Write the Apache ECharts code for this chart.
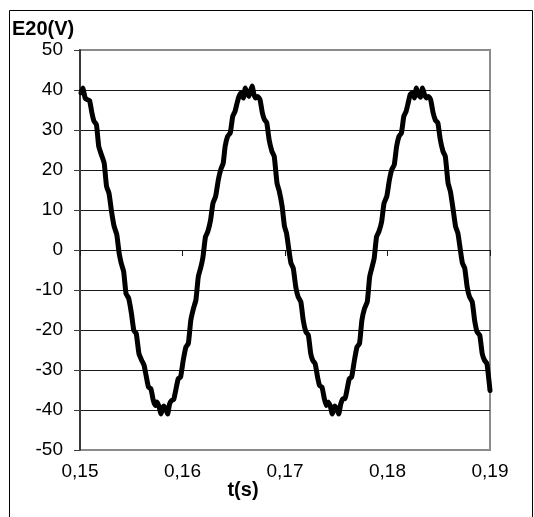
<!DOCTYPE html>
<html>
<head>
<meta charset="utf-8">
<script src="https://cdn.jsdelivr.net/npm/echarts@6/dist/echarts.min.js"></script>
<style>
  html, body { margin: 0; padding: 0; background: #fff; }
  #chart { width: 534px; height: 517px; }
</style>
</head>
<body>
<div id="chart"></div>
<script>
// Sample times (s) of the measured E20 voltage
const timeS = [
  0.15010, 0.15027, 0.15050, 0.15070, 0.15093, 0.15116, 0.15136, 0.15160, 0.15183, 0.15209,
  0.15236, 0.15259, 0.15283, 0.15309, 0.15333, 0.15359, 0.15382, 0.15402, 0.15426, 0.15449,
  0.15475, 0.15502, 0.15525, 0.15549, 0.15575, 0.15602, 0.15625, 0.15648, 0.15668, 0.15692,
  0.15715, 0.15735, 0.15748, 0.15768, 0.15791, 0.15815, 0.15835, 0.15855, 0.15874, 0.15894,
  0.15914, 0.15934, 0.15958, 0.15981, 0.16007, 0.16034, 0.16057, 0.16081, 0.16107, 0.16131,
  0.16154, 0.16180, 0.16200, 0.16224, 0.16247, 0.16274, 0.16297, 0.16323, 0.16350, 0.16373,
  0.16397, 0.16416, 0.16440, 0.16466, 0.16490, 0.16513, 0.16533, 0.16553, 0.16573, 0.16593,
  0.16613, 0.16633, 0.16649, 0.16666, 0.16679, 0.16696, 0.16712, 0.16732, 0.16756, 0.16779,
  0.16799, 0.16822, 0.16845, 0.16872, 0.16895, 0.16922, 0.16945, 0.16972, 0.16995, 0.17015,
  0.17038, 0.17058, 0.17081, 0.17105, 0.17128, 0.17155, 0.17178, 0.17204, 0.17228, 0.17251,
  0.17271, 0.17294, 0.17318, 0.17337, 0.17361, 0.17384, 0.17404, 0.17421, 0.17441, 0.17461,
  0.17484, 0.17504, 0.17524, 0.17544, 0.17564, 0.17584, 0.17604, 0.17627, 0.17650, 0.17677,
  0.17703, 0.17727, 0.17750, 0.17776, 0.17803, 0.17826, 0.17850, 0.17870, 0.17893, 0.17916,
  0.17943, 0.17966, 0.17993, 0.18019, 0.18042, 0.18066, 0.18089, 0.18112, 0.18136, 0.18159,
  0.18182, 0.18202, 0.18222, 0.18242, 0.18262, 0.18282, 0.18302, 0.18322, 0.18342, 0.18362,
  0.18382, 0.18401, 0.18421, 0.18445, 0.18468, 0.18491, 0.18515, 0.18541, 0.18564, 0.18591,
  0.18614, 0.18641, 0.18664, 0.18687, 0.18711, 0.18731, 0.18754, 0.18777, 0.18800, 0.18827,
  0.18850, 0.18874, 0.18900, 0.18924, 0.18947, 0.18970, 0.19000
];

// E20 voltage (V) at each sample time
const e20V = [
  39.3, 40.5, 38.0, 37.6, 37.4, 34.3, 32.2, 31.4, 25.9, 23.8,
  21.7, 15.9, 14.2, 9.4, 5.9, 3.8, -0.8, -3.3, -5.4, -10.9,
  -12.1, -15.9, -20.1, -20.9, -25.9, -27.6, -28.8, -31.8, -34.3, -34.7,
  -37.6, -38.9, -38.0, -38.9, -41.0, -39.0, -39.7, -41.0, -38.5, -37.6,
  -37.4, -35.1, -32.2, -31.8, -27.6, -24.2, -23.4, -17.6, -14.6, -12.5,
  -6.7, -4.2, -1.7, 3.3, 4.6, 7.5, 11.7, 13.4, 17.6, 20.1,
  21.7, 25.9, 28.4, 29.3, 33.4, 34.7, 36.8, 38.5, 39.3, 38.0,
  40.5, 39.1, 38.4, 40.0, 41.0, 39.0, 38.0, 38.4, 37.6, 34.3,
  32.6, 31.8, 27.6, 24.7, 23.4, 16.7, 14.6, 10.9, 5.9, 4.2,
  0.0, -3.3, -4.6, -9.2, -11.7, -13.0, -17.6, -20.5, -21.3, -25.9,
  -27.6, -28.4, -31.8, -33.9, -34.3, -37.2, -38.9, -38.0, -38.9, -41.0,
  -39.0, -39.7, -41.0, -38.5, -37.2, -37.2, -35.1, -32.2, -31.8, -27.6,
  -24.2, -23.4, -17.6, -14.6, -12.9, -6.7, -4.2, -2.1, 3.3, 4.6,
  7.1, 11.7, 13.4, 17.6, 20.1, 21.3, 25.9, 28.4, 29.3, 33.4,
  34.7, 36.8, 38.9, 39.3, 38.0, 40.5, 38.8, 38.2, 40.5, 38.8,
  38.0, 38.4, 37.6, 34.3, 32.4, 31.8, 27.6, 24.7, 23.4, 16.7,
  14.6, 10.0, 5.9, 4.2, 0.0, -3.3, -4.6, -9.2, -11.7, -13.0,
  -17.6, -20.5, -21.3, -25.9, -27.6, -28.4, -35.1
];

// Axis ranges and labels
const tMin = 0.15, tMax = 0.19, tStep = 0.01;
const vMin = -50, vMax = 50, vStep = 10;
const xTitle = 't(s)';
const yTitle = 'E20(V)';

const points = timeS.map((t, i) => [t, e20V[i]]);

// Horizontal gridlines: outermost ones share the grey plot border colour
const gridCount = (vMax - vMin) / vStep + 1;
const gridColors = [];
for (let i = 0; i < gridCount; i++) {
  gridColors.push(i === 0 || i === gridCount - 1 ? '#8c8c8c' : '#1a1a1a');
}

const font = 'Liberation Sans, Arial, sans-serif';
const chart = echarts.init(document.getElementById('chart'), null, { renderer: 'canvas' });

chart.setOption({
  animation: false,
  backgroundColor: '#fff',
  grid: {
    left: 80, right: 44, top: 50, bottom: 67,
    show: true, borderColor: '#8c8c8c', borderWidth: 2, backgroundColor: 'transparent'
  },
  xAxis: [
    {
      // axis line through zero with its small ticks
      type: 'value', min: tMin, max: tMax, interval: tStep,
      position: 'bottom',
      axisLine: { show: true, onZero: true, lineStyle: { color: '#1a1a1a', width: 1 } },
      axisTick: { show: true, length: 6, inside: false, lineStyle: { color: '#1a1a1a', width: 1 } },
      axisLabel: { show: false },
      splitLine: { show: false }
    },
    {
      // tick labels along the bottom edge
      type: 'value', min: tMin, max: tMax, interval: tStep,
      position: 'bottom',
      axisLine: { show: false, onZero: false },
      axisTick: { show: false },
      splitLine: { show: false },
      axisLabel: {
        show: true, margin: 12, color: '#000', fontSize: 19, fontFamily: font,
        formatter: v => v.toFixed(2).replace('.', ',')
      }
    }
  ],
  yAxis: {
    type: 'value', min: vMin, max: vMax, interval: vStep,
    axisLine: { show: true, lineStyle: { color: '#3a3a3a', width: 2 } },
    axisTick: { show: true, length: 6, lineStyle: { color: '#3a3a3a', width: 1 } },
    axisLabel: { margin: 17, color: '#000', fontSize: 19, fontFamily: font },
    splitLine: { show: true, lineStyle: { color: gridColors, width: 1 } }
  },
  series: [{
    type: 'line',
    xAxisIndex: 0,
    data: points,
    showSymbol: false,
    smooth: 0.15,
    lineStyle: { color: '#000', width: 5, join: 'round', cap: 'round' },
    z: 5
  }],
  graphic: [
    {
      type: 'rect',
      shape: { x: 9.5, y: 10.5, width: 523, height: 530 },
      style: { fill: 'none', stroke: '#000', lineWidth: 1 },
      silent: true
    },
    {
      type: 'text', left: 12, top: 19,
      style: { text: yTitle, fontSize: 20, fontWeight: 'bold', fontFamily: font, fill: '#000' }
    },
    {
      type: 'text', x: 243, y: 490,
      style: {
        text: xTitle, fontSize: 20, fontWeight: 'bold', fontFamily: font, fill: '#000',
        align: 'center', verticalAlign: 'middle'
      }
    }
  ]
});
</script>
</body>
</html>
